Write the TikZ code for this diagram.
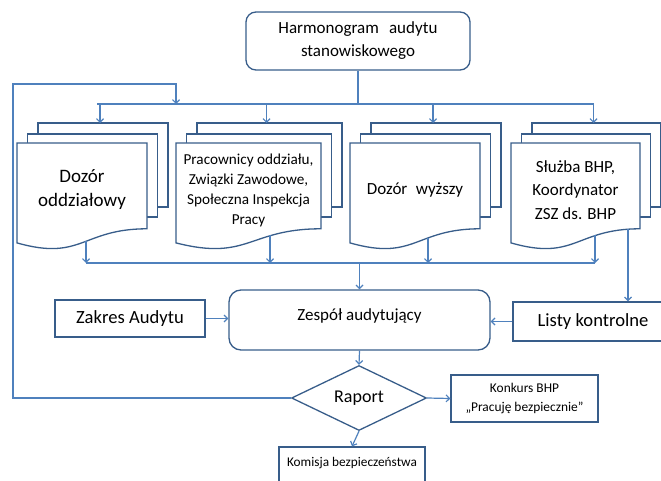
\documentclass[tikz,border=0pt]{standalone}
\usepackage{fontspec}
\setmainfont{Carlito}
\usetikzlibrary{arrows.meta,shapes.geometric}
\definecolor{linkblue}{HTML}{4F81BD}
\definecolor{edgeblue}{HTML}{385D8A}
\newcommand{\docstack}[5]{%
  \filldraw[docpage] (#2+21,123) rectangle (#2+#3+21,207);
  \filldraw[docpage] (#2+10.5,134) rectangle (#2+#3+10.5,217);
  \filldraw[docpage] (#2,143) -- (#2+#3,143) -- (#2+#3,228.8)
    .. controls (#2+#3/2,228.8) and (#2+#3/2,261.4) .. (#2,242.9) -- cycle;
  \coordinate (#1-in) at (#2+#3/2+18,123);
  \node[doctext, font=\fontsize#4\selectfont] (#1) at (#2+#3/2,190) {#5};}

\begin{document}
\begin{tikzpicture}[x=1pt,y=-1pt,
  conn/.style={draw=linkblue, line width=1.2pt},
  arr/.style={conn, -{Straight Barb[length=3.5pt,width=7pt]}},
  docpage/.style={draw=edgeblue, fill=white, line width=1.3pt},
  doctext/.style={align=center, inner sep=0pt},
  roundbox/.style={draw=edgeblue, line width=1.3pt, rounded corners=10pt, align=center},
  plainbox/.style={draw=edgeblue, line width=1.3pt, align=center}]
\useasboundingbox (0,0) rectangle (661,481);
\node[roundbox, minimum width=224pt, minimum height=58pt, font=\fontsize{17}{23}\selectfont] (harm) at (358,41) {Harmonogram\hspace{0.6em}audytu\\stanowiskowego};
\docstack{dozor}{17}{130}{{19}{24}}{Dozór\\oddziałowy}
\docstack{prac}{176}{145}{{15.2}{20}}{Pracownicy oddziału,\\Związki Zawodowe,\\Społeczna Inspekcja\\Pracy}
\docstack{wyzszy}{350}{130}{{17}{20}}{Dozór\hspace{0.5em}wyższy}
\docstack{bhp}{511}{129}{{17}{23.5}}{Służba BHP,\\Koordynator\\ZSZ ds. BHP}
\coordinate (dozor-out) at (86,241);
\coordinate (prac-out) at (270,235);
\coordinate (wyzszy-out) at (428,238);
\coordinate (bhp-out) at (595,235);
\coordinate (bhp-side) at (628,229);
\node[roundbox, rounded corners=12pt, minimum width=261pt, minimum height=60pt, text height=12pt, text depth=12pt, font=\fontsize{17}{20}\selectfont] (zespol) at (359.5,320) {Zespół audytujący};
\node[plainbox, minimum width=150pt, minimum height=37pt, font=\fontsize{18.6}{22}\selectfont] (zakres) at (130,318.5) {Zakres Audytu};
\node[plainbox, minimum width=160pt, minimum height=39pt, font=\fontsize{18.6}{22}\selectfont] (listy) at (593,321.5) {Listy kontrolne};
\node[diamond, draw=edgeblue, line width=1.3pt, minimum width=135pt, minimum height=65pt, inner sep=0pt, font=\fontsize{18}{22}\selectfont] (raport) at (359,398) {Raport};
\node[plainbox, minimum width=147pt, minimum height=47pt, font=\fontsize{13.4}{19}\selectfont] (konkurs) at (524.5,398.5) {Konkurs BHP\\„Pracuję bezpiecznie”};
\node[plainbox, minimum width=146pt, minimum height=50pt, text height=9pt, text depth=20pt, font=\fontsize{13.3}{15}\selectfont] (komisja) at (352,472) {Komisja bezpieczeństwa};
\coordinate (busL) at (97,104);
\coordinate (busR) at (594,104);
\coordinate (busBL) at (86,263);
\coordinate (busBR) at (595,263);
\coordinate (loopTop) at (13,84);
\coordinate (loopEnd) at (176,104);
\draw[conn] (harm.south) -- (harm.south |- busL);
\draw[conn] (busL) -- (busR);
\foreach \s in {dozor,prac,wyzszy,bhp}
  \draw[arr] (\s-in |- busL) -- (\s-in);
\draw[conn] (busBL) -- (busBR);
\foreach \s in {dozor,prac,wyzszy,bhp}
  \draw[arr] (\s-out) -- (\s-out |- busBL);
\draw[arr] (zespol.north |- busBL) -- (zespol.north);
\draw[arr] (bhp-side) -- (bhp-side |- listy.north);
\draw[arr] (zakres.east) -- (zakres.east -| zespol.west);
\draw[arr] (listy.west) -- (listy.west -| zespol.east);
\draw[arr] (zespol.south) -- (raport.north);
\draw[arr] (raport.east) -- (konkurs.west);
\draw[arr] (raport.south) -- (komisja.north);
\draw[arr] (raport.west) -| (loopTop) -| (loopEnd);
\end{tikzpicture}
\end{document}
